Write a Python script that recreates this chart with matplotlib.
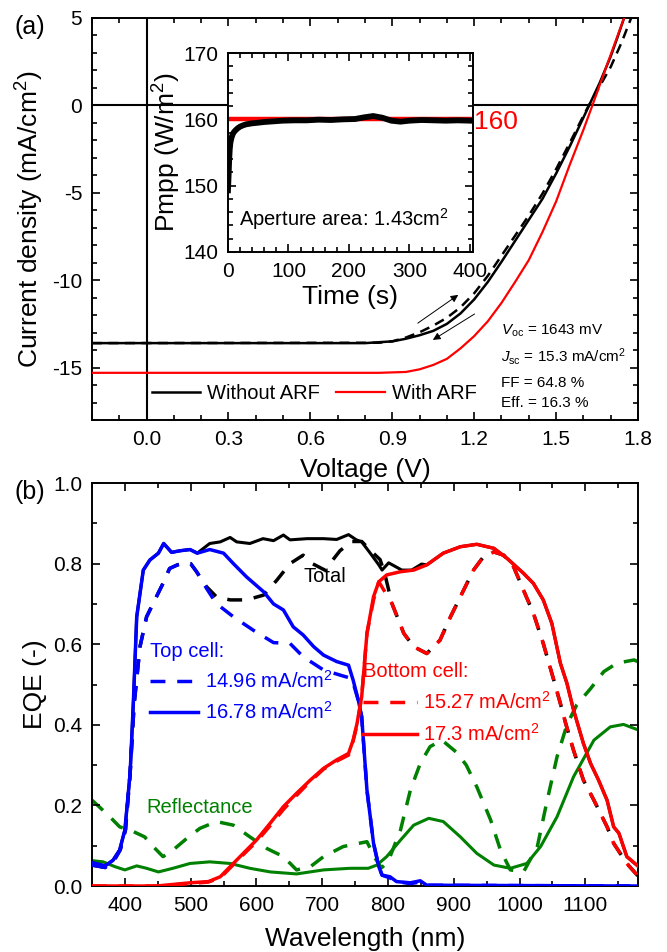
import matplotlib
matplotlib.use("Agg")
import matplotlib.pyplot as plt
from matplotlib.ticker import MultipleLocator
import numpy as np

plt.rcParams["font.family"] = ["Liberation Sans", "DejaVu Sans"]
plt.rcParams["mathtext.fontset"] = "custom"
plt.rcParams["mathtext.rm"] = "Liberation Sans"
plt.rcParams["mathtext.it"] = "Liberation Sans:italic"
plt.rcParams["axes.unicode_minus"] = False

# =========================
# (a) J-V data
# =========================
v_no_arf = [-0.2, 0.80, 0.90, 0.95, 1.00, 1.05, 1.10, 1.15, 1.20, 1.25, 1.30, 1.35,
            1.40, 1.45, 1.50, 1.55, 1.60, 1.621, 1.66, 1.70, 1.725, 1.749]
j_no_arf = [-13.6, -13.6, -13.5, -13.35, -13.15, -12.9, -12.5, -11.9, -11.1, -10.1, -8.95, -7.75,
            -6.55, -5.35, -3.9, -2.35, -0.7, 0.0, 1.3, 2.8, 3.9, 5.0]

v_no_arf_rev = [-0.2, 0.85, 0.90, 0.95, 1.00, 1.05, 1.10, 1.15, 1.20, 1.25, 1.30, 1.35,
                1.40, 1.45, 1.50, 1.55, 1.60, 1.62, 1.66, 1.70, 1.74, 1.775]
j_no_arf_rev = [-13.6, -13.58, -13.5, -13.28, -12.98, -12.6, -12.15, -11.55, -10.75, -9.75, -8.6,
                -7.45, -6.3, -5.05, -3.65, -2.15, -0.6, 0.0, 1.1, 2.2, 3.6, 5.0]

v_arf = [-0.2, 0.85, 0.95, 1.00, 1.05, 1.10, 1.15, 1.20, 1.25, 1.30, 1.35, 1.40,
         1.45, 1.50, 1.55, 1.60, 1.633, 1.70, 1.749]
j_arf = [-15.3, -15.3, -15.25, -15.1, -14.85, -14.5, -13.9, -13.2, -12.35, -11.3, -10.1, -8.85,
         -7.25, -5.5, -3.4, -1.4, 0.0, 2.9, 5.0]

# inset: maximum power point tracking
mpp_time = [0, 1, 2, 3, 4, 6, 8, 10, 13, 16, 20, 25, 30, 40, 50, 60, 75, 90, 110, 130,
            150, 170, 190, 210, 225, 240, 255, 270, 285, 300, 320, 340, 360, 380, 400]
mpp_power = [149.3, 151.5, 154, 155.6, 156.5, 157.3, 157.8, 158.1, 158.4, 158.65, 158.9, 159.1,
             159.25, 159.4, 159.5, 159.6, 159.7, 159.8, 159.85, 159.85, 159.95, 159.9, 160.0,
             160.05, 160.3, 160.5, 160.25, 159.8, 159.65, 159.8, 159.9, 159.85, 159.8, 159.85, 159.8]
ref_time = [0, 405]
ref_power = [160, 160]

params_text = ["$V_{\\rm oc}$ = 1643 mV", "$J_{\\rm sc}$ = 15.3 mA/cm$^2$",
               "FF = 64.8 %", "Eff. = 16.3 %"]
params_y = [-12.89, -14.37, -15.86, -17.0]

# =========================
# (b) EQE data
# =========================
wl_top_d = [350, 370, 383, 393, 401, 408, 414, 423, 433, 448, 458, 468, 480, 491, 500, 509,
            524, 539, 565, 595, 626, 651, 671, 702, 732, 745, 755, 760, 768, 778, 786, 791,
            803, 813, 834, 850, 860, 1180]
eqe_top_d = [0.052, 0.046, 0.062, 0.09, 0.14, 0.28, 0.45, 0.594, 0.668, 0.718, 0.751, 0.788,
             0.797, 0.802, 0.80, 0.78, 0.739, 0.701, 0.668, 0.635, 0.604, 0.602, 0.569, 0.536,
             0.521, 0.515, 0.46, 0.42, 0.238, 0.106, 0.048, 0.027, 0.02, 0.011, 0.006, 0.01,
             0.002, 0.0]

wl_top_s = [350, 370, 382, 392, 400, 408, 413, 418, 428, 438, 451, 459, 471, 484, 499, 510,
            529, 550, 565, 585, 611, 626, 641, 656, 671, 687, 702, 722, 740, 747, 755, 760,
            768, 778, 786, 791, 803, 813, 834, 849, 859, 1180]
eqe_top_s = [0.058, 0.05, 0.064, 0.089, 0.139, 0.28, 0.46, 0.668, 0.784, 0.809, 0.826, 0.85,
             0.828, 0.832, 0.835, 0.826, 0.835, 0.826, 0.80, 0.767, 0.73, 0.70, 0.685, 0.643,
             0.623, 0.594, 0.573, 0.557, 0.548, 0.511, 0.46, 0.42, 0.238, 0.106, 0.048, 0.027,
             0.023, 0.011, 0.008, 0.013, 0.002, 0.0]

wl_bot_d = [350, 450, 500, 527, 545, 560, 580, 600, 621, 641, 661, 682, 702, 722, 740, 747,
            753, 760, 768, 778, 786, 806, 824, 839, 859, 879, 895, 910, 930, 945, 961, 976,
            991, 1006, 1021, 1036, 1052, 1062, 1070, 1082, 1097, 1113, 1133, 1143, 1163, 1181]
eqe_bot_d = [0.0, 0.0, 0.006, 0.01, 0.02, 0.045, 0.078, 0.11, 0.15, 0.19, 0.225, 0.26, 0.29,
             0.31, 0.325, 0.36, 0.40, 0.47, 0.627, 0.71, 0.755, 0.701, 0.627, 0.594, 0.577,
             0.61, 0.668, 0.718, 0.784, 0.817, 0.829, 0.821, 0.792, 0.734, 0.677, 0.602, 0.511,
             0.453, 0.404, 0.337, 0.263, 0.213, 0.147, 0.106, 0.056, 0.023]

wl_bot_s = [350, 448, 499, 527, 545, 560, 580, 600, 621, 641, 661, 682, 702, 722, 740, 747,
            753, 760, 768, 778, 786, 798, 819, 839, 859, 884, 910, 935, 961, 981, 1006, 1021,
            1036, 1049, 1062, 1072, 1082, 1097, 1108, 1120, 1133, 1143, 1151, 1163, 1181]
eqe_bot_s = [0.0, 0.0, 0.008, 0.011, 0.023, 0.048, 0.081, 0.114, 0.156, 0.197, 0.23, 0.263,
             0.292, 0.313, 0.329, 0.362, 0.404, 0.47, 0.627, 0.718, 0.755, 0.772, 0.78, 0.784,
             0.797, 0.826, 0.842, 0.848, 0.838, 0.813, 0.776, 0.751, 0.71, 0.652, 0.553, 0.503,
             0.437, 0.354, 0.304, 0.263, 0.213, 0.147, 0.131, 0.073, 0.048]

# total EQE: own points in the middle, joins top cell (left) and bottom cell (right)
wl_tot_s = [529, 545, 560, 570, 590, 610, 626, 641, 651, 677, 702, 722, 740, 752, 760, 773,
            786, 791, 801, 821, 836, 851]
eqe_tot_s = [0.85, 0.854, 0.865, 0.854, 0.85, 0.862, 0.857, 0.871, 0.859, 0.862, 0.862, 0.86,
             0.872, 0.859, 0.854, 0.826, 0.797, 0.784, 0.802, 0.784, 0.784, 0.799]
wl_tot_d = [524, 539, 560, 585, 611, 631, 651, 671, 685, 704, 727, 745, 760, 775, 788, 795]
eqe_tot_d = [0.743, 0.718, 0.71, 0.71, 0.722, 0.759, 0.80, 0.821, 0.80, 0.784, 0.832, 0.855,
             0.855, 0.83, 0.81, 0.775]

wl_ref_d = [350, 362, 377, 392, 413, 430, 443, 458, 473, 494, 514, 539, 565, 590, 616, 641,
            661, 682, 702, 732, 768, 780, 790, 800, 819, 834, 849, 864, 882, 904, 919, 935,
            956, 971, 986, 1006, 1027, 1042, 1057, 1072, 1087, 1108, 1128, 1148, 1174, 1181]
ref_d = [0.213, 0.195, 0.172, 0.147, 0.135, 0.122, 0.098, 0.073, 0.089, 0.118, 0.143, 0.16,
         0.151, 0.122, 0.093, 0.073, 0.04, 0.048, 0.073, 0.098, 0.11, 0.07, 0.045, 0.06, 0.139,
         0.238, 0.304, 0.346, 0.362, 0.332, 0.30, 0.246, 0.164, 0.089, 0.04, 0.035, 0.098, 0.213,
         0.321, 0.40, 0.45, 0.49, 0.532, 0.553, 0.561, 0.556]

wl_ref_s = [350, 367, 385, 400, 418, 433, 451, 473, 499, 529, 560, 590, 621, 661, 702, 742,
            770, 783, 798, 819, 839, 862, 884, 910, 935, 961, 986, 1011, 1032, 1057, 1082, 1113,
            1138, 1158, 1181]
ref_s = [0.063, 0.06, 0.048, 0.04, 0.05, 0.044, 0.035, 0.044, 0.056, 0.06, 0.056, 0.044, 0.035,
         0.03, 0.04, 0.044, 0.044, 0.052, 0.073, 0.114, 0.151, 0.168, 0.16, 0.122, 0.081, 0.052,
         0.044, 0.056, 0.098, 0.172, 0.271, 0.362, 0.395, 0.401, 0.387]

top_labels = ["14.96 mA/cm$^2$", "16.78 mA/cm$^2$"]
bot_labels = ["15.27 mA/cm$^2$", "17.3 mA/cm$^2$"]

BLUE = "#0000ff"
RED = "#ff0000"
GREEN = "#008000"
DASH_EQE = (0, (4.3, 3.4))
DASH_JV = (0, (4.0, 2.6))


def style_axes(ax, size=15):
    for s in ax.spines.values():
        s.set_linewidth(1.4)
    ax.tick_params(which="both", direction="in", top=True, right=True, width=1.2,
                   labelsize=size)
    ax.tick_params(which="major", length=6, pad=7)
    ax.tick_params(which="minor", length=3.5)


fig = plt.figure(figsize=(6.67, 9.52), dpi=100)

# =========================
# (a) J-V curves
# =========================
ax1 = fig.add_axes([0.1379, 0.5588, 0.8186, 0.4223])
ax1.axhline(0, color="k", lw=1.5, zorder=1)
ax1.axvline(0, color="k", lw=1.5, zorder=1)
ax1.plot(v_no_arf_rev, j_no_arf_rev, color="k", lw=1.8, ls=DASH_JV, zorder=2)
l_no, = ax1.plot(v_no_arf, j_no_arf, color="k", lw=1.8, zorder=3, label="Without ARF")
l_arf, = ax1.plot(v_arf, j_arf, color=RED, lw=1.6, zorder=4, label="With ARF")

ax1.annotate("", xy=(1.15, -10.75), xytext=(0.985, -12.55),
             arrowprops=dict(arrowstyle="-|>", lw=0.7, color="k", mutation_scale=11))
ax1.annotate("", xy=(1.04, -13.5), xytext=(1.21, -11.85),
             arrowprops=dict(arrowstyle="-|>", lw=0.7, color="k", mutation_scale=11))

for t, y in zip(params_text, params_y):
    ax1.text(1.299, y, t, fontsize=11, va="center", ha="left")

ax1.set_xlim(-0.2, 1.8)
ax1.set_ylim(-18, 5)
ax1.xaxis.set_minor_locator(MultipleLocator(0.1))
ax1.yaxis.set_major_locator(MultipleLocator(5))
ax1.yaxis.set_minor_locator(MultipleLocator(1))
ax1.set_xticks(np.arange(0, 1.81, 0.3))
ax1.set_xticklabels(["0.0", "0.3", "0.6", "0.9", "1.2", "1.5", "1.8"])
style_axes(ax1)
ax1.set_xlabel("Voltage (V)", fontsize=19, labelpad=7)
ax1.set_ylabel("Current density (mA/cm$^2$)", fontsize=19, labelpad=4)
ax1.legend(handles=[l_no, l_arf], loc="center left", bbox_to_anchor=(0.11, 0.067), ncol=2,
           frameon=False, fontsize=14.5, handlelength=2.4, handletextpad=0.35,
           columnspacing=0.8, borderpad=0, borderaxespad=0)

# inset: Pmpp vs time
axi = fig.add_axes([0.3418, 0.7353, 0.3673, 0.2090])
axi.set_zorder(5)
axi.plot(ref_time, ref_power, color=RED, lw=3.2)
axi.plot(mpp_time, mpp_power, color="k", lw=4.2)
axi.text(407, 159.6, "160", color=RED, fontsize=19, va="center", ha="left", clip_on=False)
axi.text(18, 145, "Aperture area: 1.43cm$^2$", fontsize=14.5, va="center", ha="left")
axi.set_xlim(0, 405)
axi.set_ylim(140, 170)
axi.xaxis.set_major_locator(MultipleLocator(100))
axi.xaxis.set_minor_locator(MultipleLocator(20))
axi.yaxis.set_major_locator(MultipleLocator(10))
axi.yaxis.set_minor_locator(MultipleLocator(2))
style_axes(axi)
axi.set_xlabel("Time (s)", fontsize=19, labelpad=3)
axi.set_ylabel("Pmpp (W/m$^2$)", fontsize=19, labelpad=0)

# =========================
# (b) EQE and reflectance
# =========================
ax2 = fig.add_axes([0.1379, 0.0693, 0.8186, 0.4233])

ax2.plot(wl_ref_d, ref_d, color=GREEN, lw=2.5, ls=DASH_EQE, zorder=1)
ax2.plot(wl_ref_s, ref_s, color=GREEN, lw=2.2, zorder=1)

top_x = np.array(wl_top_s)
bot_x = np.array(wl_bot_s)
topd_x = np.array(wl_top_d)
botd_x = np.array(wl_bot_d)
tot_s_x = np.concatenate([top_x[top_x < 529], wl_tot_s, bot_x[bot_x > 855]])
tot_s_y = np.concatenate([np.array(eqe_top_s)[top_x < 529], eqe_tot_s,
                          np.array(eqe_bot_s)[bot_x > 855]])
tot_d_x = np.concatenate([topd_x[topd_x < 524], wl_tot_d, botd_x[botd_x > 800]])
tot_d_y = np.concatenate([np.array(eqe_top_d)[topd_x < 524], eqe_tot_d,
                          np.array(eqe_bot_d)[botd_x > 800]])
ax2.plot(tot_d_x, tot_d_y, color="k", lw=2.5, ls=DASH_EQE, zorder=2)
ax2.plot(tot_s_x, tot_s_y, color="k", lw=2.2, zorder=2)

top_d, = ax2.plot(wl_top_d, eqe_top_d, color=BLUE, lw=2.5, ls=DASH_EQE, zorder=3)
top_s, = ax2.plot(wl_top_s, eqe_top_s, color=BLUE, lw=2.5, zorder=3)
bot_d, = ax2.plot(wl_bot_d, eqe_bot_d, color=RED, lw=2.5, ls=DASH_EQE, zorder=4)
bot_s, = ax2.plot(wl_bot_s, eqe_bot_s, color=RED, lw=2.5, zorder=4)

ax2.text(671, 0.767, "Total", fontsize=14.5, va="center", ha="left")
ax2.text(433, 0.196, "Reflectance", fontsize=14.5, color=GREEN, va="center", ha="left")

leg_top = ax2.legend([top_d, top_s], top_labels, title="Top cell:", loc="upper left",
                     bbox_to_anchor=(0.106, 0.605), frameon=False, fontsize=14.5,
                     title_fontsize=14.5, handlelength=2.4, handletextpad=0.35,
                     labelspacing=0.45, borderpad=0, borderaxespad=0, alignment="left",
                     labelcolor=BLUE)
leg_top.get_title().set_color(BLUE)
ax2.add_artist(leg_top)
leg_bot = ax2.legend([bot_d, bot_s], bot_labels, title="Bottom cell:", loc="upper left",
                     bbox_to_anchor=(0.496, 0.556), frameon=False, fontsize=14.5,
                     title_fontsize=14.5, handlelength=2.7, handletextpad=0.3,
                     labelspacing=0.5, borderpad=0, borderaxespad=0, alignment="left",
                     labelcolor=RED)
leg_bot.get_title().set_color(RED)

ax2.set_xlim(350, 1180)
ax2.set_ylim(0, 1.0)
ax2.xaxis.set_major_locator(MultipleLocator(100))
ax2.xaxis.set_minor_locator(MultipleLocator(50))
ax2.yaxis.set_major_locator(MultipleLocator(0.2))
ax2.yaxis.set_minor_locator(MultipleLocator(0.1))
ax2.yaxis.set_major_formatter(matplotlib.ticker.FormatStrFormatter("%.1f"))
style_axes(ax2)
ax2.set_xlabel("Wavelength (nm)", fontsize=19, labelpad=9)
ax2.set_ylabel("EQE (-)", fontsize=19, labelpad=4)

fig.text(0.045, 0.972, "(a)", fontsize=18, ha="center", va="center")
fig.text(0.045, 0.483, "(b)", fontsize=18, ha="center", va="center")

fig.savefig("out.png", dpi=100)
